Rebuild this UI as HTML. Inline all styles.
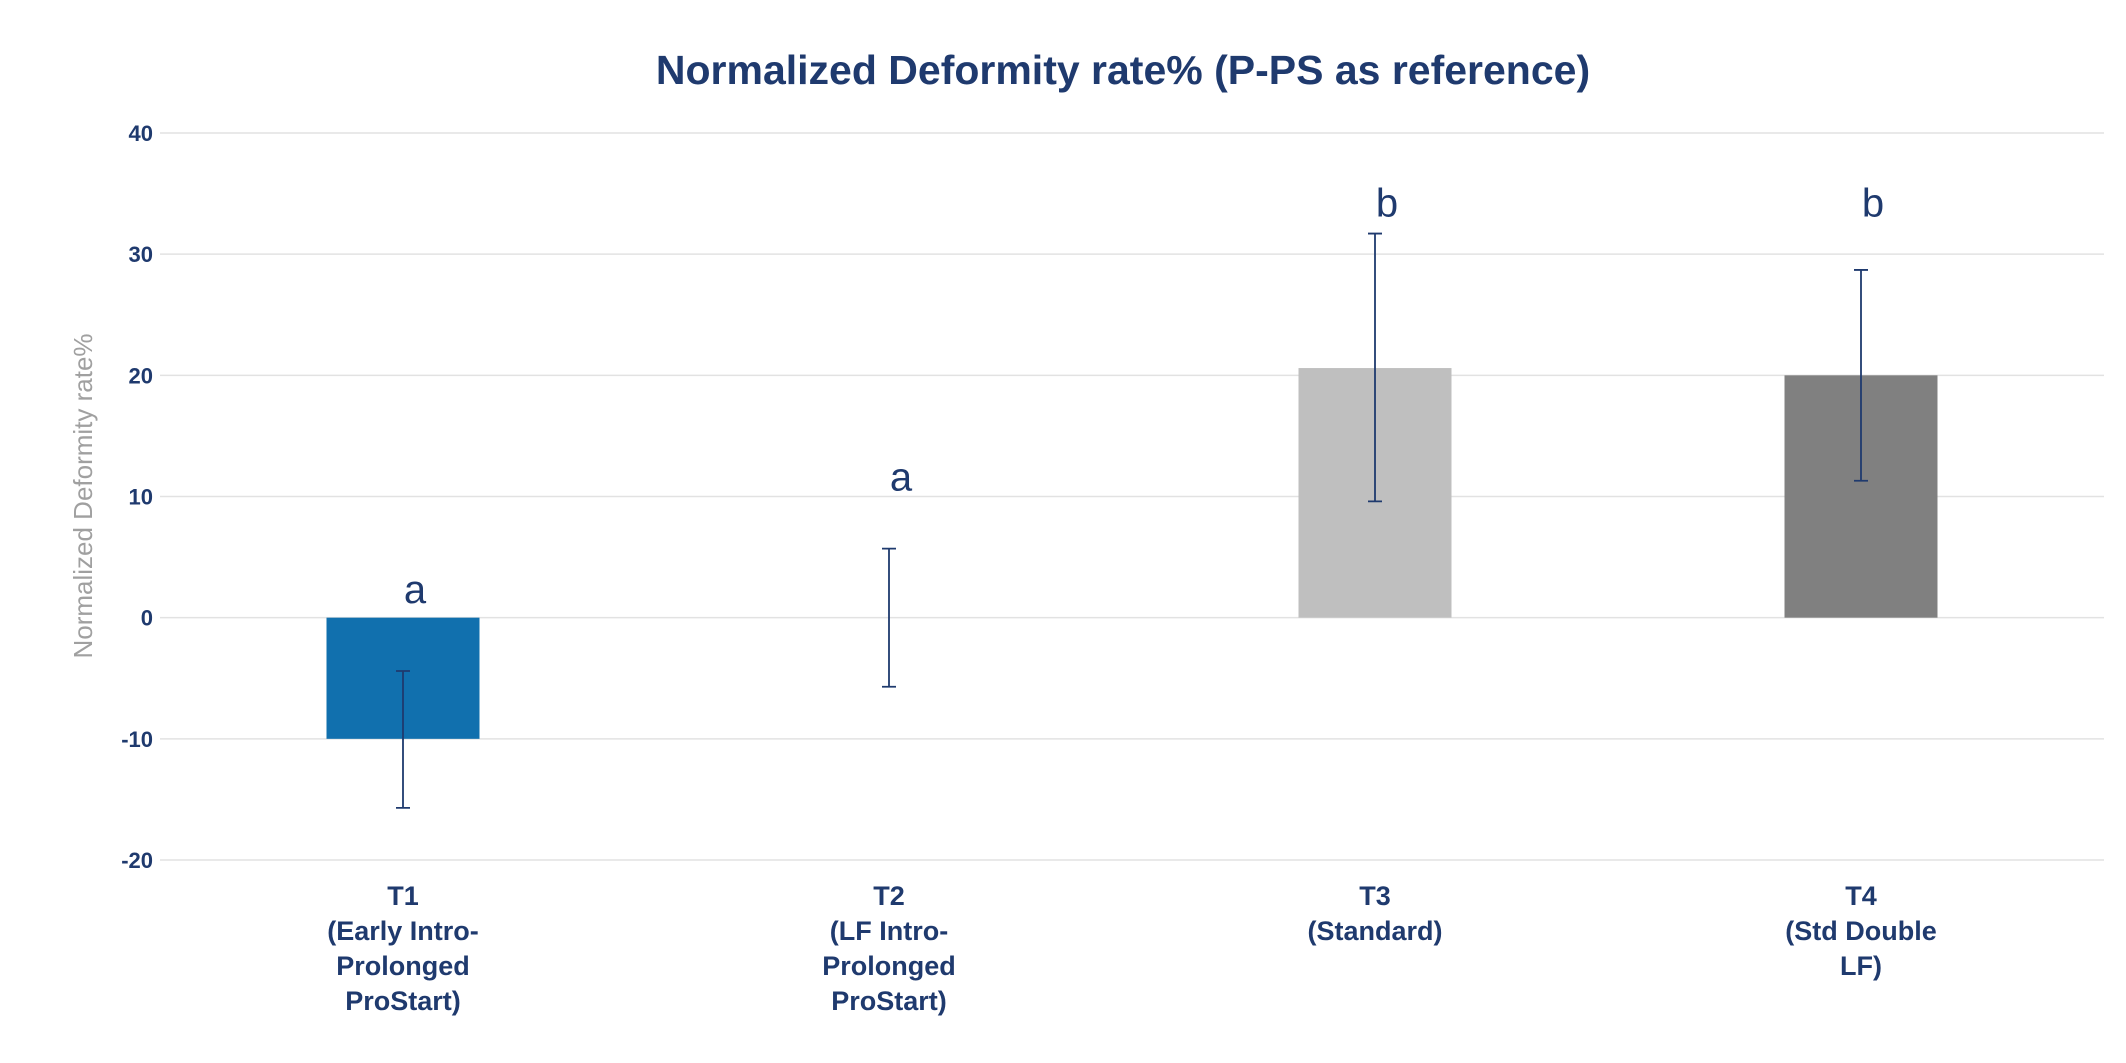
<!DOCTYPE html>
<html><head><meta charset="utf-8"><style>
body{margin:0;background:#fff;}
svg text{font-family:"Liberation Sans",Arial,sans-serif;}
</style></head><body>
<svg id="chart" width="2126" height="1058" xmlns="http://www.w3.org/2000/svg">
<text x="1123" y="84" text-anchor="middle" font-size="41" font-weight="bold" fill="#1f3a6e">Normalized Deformity rate% (P-PS as reference)</text>
<text transform="translate(92,496) rotate(-90)" text-anchor="middle" font-size="26" fill="#a0a0a0">Normalized Deformity rate%</text>
<g id="grid"></g><g id="bars"></g><g id="labels"></g>
</svg>
<script>
const categories=[["T1","(Early Intro-","Prolonged","ProStart)"],["T2","(LF Intro-","Prolonged","ProStart)"],["T3","(Standard)"],["T4","(Std Double","LF)"]];
const values=[-10,0,20.6,20];
const errHigh=[-4.4,5.7,31.7,28.7];
const errLow=[-15.7,-5.7,9.6,11.3];
const letters=["a","a","b","b"];
const letterPos=[1.2,10.5,33.1,33.1];
const ticks=[40,30,20,10,0,-10,-20];
const colors=["#1170ae","#ffffff","#bfbfbf","#808080"];
const NS="http://www.w3.org/2000/svg";
const x0=160,x1=2104,yTop=133,yBot=860,vMax=40,vMin=-20;
const y=v=>yTop+(vMax-v)/(vMax-vMin)*(yBot-yTop);
const band=(x1-x0)/categories.length;
const xc=i=>x0+band*(i+0.5);
function mk(t,a,p){const e=document.createElementNS(NS,t);for(const k in a)e.setAttribute(k,a[k]);document.getElementById(p).appendChild(e);return e;}
ticks.forEach(t=>{
 const l=mk("line",{x1:x0,x2:x1,y1:y(t),y2:y(t),stroke:"#e2e2e2","stroke-width":1.5},"grid");
 
 
 const tx=mk("text",{x:153,y:y(t)+8,"text-anchor":"end","font-size":22,"font-weight":"bold",fill:"#1f3a6e"},"grid");
 tx.textContent=t;
 
 
});
const bw=153;
values.forEach((v,i)=>{
 const r=mk("rect",{x:xc(i)-bw/2,y:Math.min(y(v),y(0)),width:bw,height:Math.abs(y(v)-y(0)),fill:colors[i]},"bars");
 
 
 const cx=xc(i);
 const eb=mk("path",{d:`M${cx},${y(errHigh[i])}V${y(errLow[i])}M${cx-7},${y(errHigh[i])}H${cx+7}M${cx-7},${y(errLow[i])}H${cx+7}`,stroke:"#1f3a6e","stroke-width":1.8,fill:"none"},"bars");
 
 
 const lt=mk("text",{x:xc(i)+12,y:y(letterPos[i]),"text-anchor":"middle","font-size":40,fill:"#1f3a6e"},"labels");
 lt.textContent=letters[i];
 
 
 categories[i].forEach((s,j)=>{
  const ct=mk("text",{x:xc(i),y:905+j*35,"text-anchor":"middle","font-size":27,"font-weight":"bold",fill:"#1f3a6e"},"labels");
  ct.textContent=s;
  
  
 });
});
</script>
</body></html>
